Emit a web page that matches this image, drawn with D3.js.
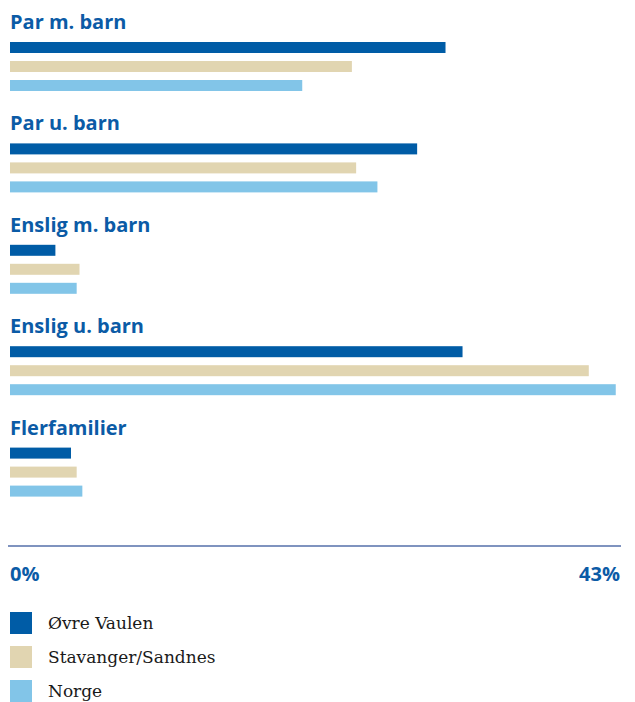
<!DOCTYPE html>
<html>
<head>
<meta charset="utf-8">
<script src="https://cdn.jsdelivr.net/npm/d3@7"></script>
<style>
  html, body { margin: 0; padding: 0; background: #ffffff; }
  svg { display: block; }
</style>
</head>
<body>
<div id="chart"></div>
<script>
// Household types, share of households (%)
const categories = ["Par m. barn", "Par u. barn", "Enslig m. barn", "Enslig u. barn", "Flerfamilier"];
const seriesNames = ["Øvre Vaulen", "Stavanger/Sandnes", "Norge"];
const ovreVaulen = [30.7, 28.7, 3.2, 31.9, 4.3];
const stavangerSandnes = [24.1, 24.4, 4.9, 40.8, 4.7];
const norge = [20.6, 25.9, 4.7, 42.7, 5.1];
const tickLabels = ["0%", "43%"];
const axisMax = 43;
const colors = ["#005ca6", "#e1d5b1", "#82c5e8"];

const seriesValues = [ovreVaulen, stavangerSandnes, norge];

const width = 635, height = 702;
const svg = d3.select("#chart").append("svg")
  .attr("width", width).attr("height", height);

const x = d3.scaleLinear().domain([0, axisMax]).range([10, 620]);

const groupStep = 101.4;
const y0 = d3.scaleBand()
  .domain(categories)
  .range([42, 42 + groupStep * categories.length])
  .paddingInner(0).paddingOuter(0);

const y1 = d3.scaleBand()
  .domain(seriesNames)
  .range([0, 49])
  .paddingInner(8 / 19).paddingOuter(0);

const titleColor = "#0b5ba6";

const groups = svg.selectAll("g.group")
  .data(categories)
  .join("g")
  .attr("class", "group")
  .attr("transform", d => `translate(0,${y0(d)})`);

groups.append("text")
  .attr("x", 10)
  .attr("y", -13)
  .attr("fill", titleColor)
  .attr("font-family", "'Open Sans', sans-serif")
  .attr("font-weight", 700)
  .attr("font-size", 20)
  .text(d => d);

groups.each(function (cat, ci) {
  d3.select(this).selectAll("rect")
    .data(seriesNames.map((s, si) => ({ s, si, v: seriesValues[si][ci] })))
    .join("rect")
    .attr("x", x(0))
    .attr("y", d => y1(d.s))
    .attr("width", d => x(d.v) - x(0))
    .attr("height", y1.bandwidth())
    .attr("fill", d => colors[d.si]);
});

// Baseline axis
svg.append("line")
  .attr("x1", x(0) - 2).attr("x2", x(axisMax) + 1)
  .attr("y1", 546).attr("y2", 546)
  .attr("stroke", "#7f93bf")
  .attr("stroke-width", 2);

svg.selectAll("text.tick")
  .data([0, axisMax])
  .join("text")
  .attr("class", "tick")
  .attr("x", d => x(d))
  .attr("y", 581)
  .attr("text-anchor", (d, i) => i === 0 ? "start" : "end")
  .attr("fill", titleColor)
  .attr("font-family", "'Open Sans', sans-serif")
  .attr("font-weight", 700)
  .attr("font-size", 20)
  .text((d, i) => tickLabels[i]);

// Legend
const legend = svg.selectAll("g.legend")
  .data(seriesNames)
  .join("g")
  .attr("class", "legend")
  .attr("transform", (d, i) => `translate(10,${612 + i * 34})`);

legend.append("rect")
  .attr("width", 22).attr("height", 22)
  .attr("fill", (d, i) => colors[i]);

legend.append("text")
  .attr("x", 38)
  .attr("y", 16.5)
  .attr("fill", "#1a1a1a")
  .attr("font-family", "'DejaVu Serif', serif")
  .attr("font-size", 17)
  .text(d => d);
</script>
</body>
</html>
